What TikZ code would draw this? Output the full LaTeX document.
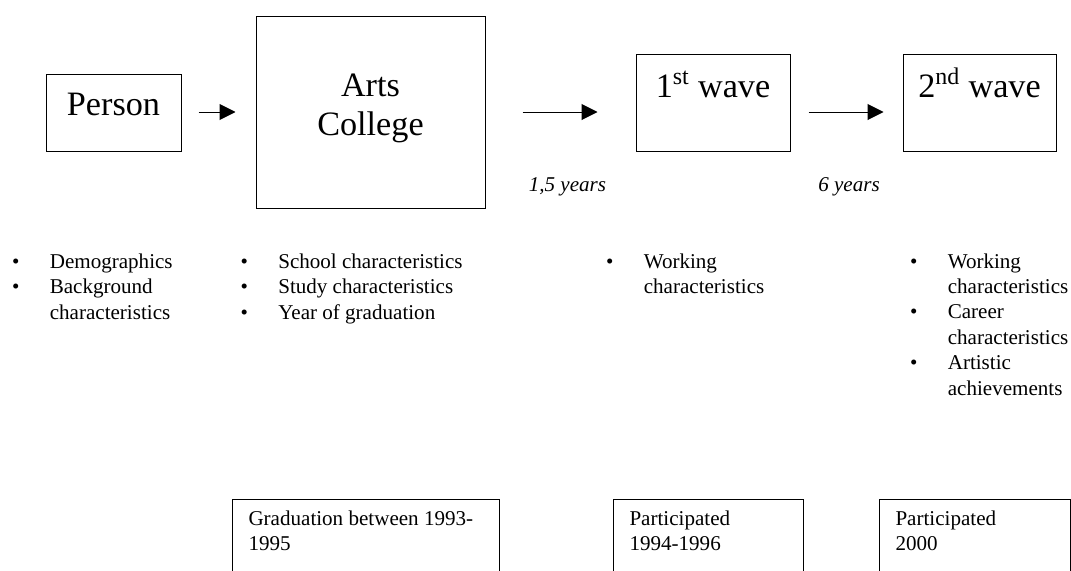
\documentclass[tikz,border=0pt]{standalone}
\usepackage{fontspec}
\setmainfont{Liberation Serif}
\usepackage{tikz}
\usetikzlibrary{arrows.meta}
\newcommand\boxtext{\fontsize{25.65}{29.25}\selectfont}
\newcommand\listtext{\fontsize{15.8}{19.1}\selectfont}

\begin{document}
\begin{tikzpicture}[
    x=0.75pt, y=-0.75pt,
    stage/.style={draw=black, line width=0.75pt, anchor=base, inner xsep=0pt, inner ysep=0pt, font=\boxtext},
    flow/.style={-{Triangle[length=12pt,width=12pt]}, line width=0.75pt},
    years/.style={anchor=base, inner sep=0pt, font=\listtext\itshape},
    vars/.style={anchor=base west, inner sep=0pt, font=\listtext},
    cohort/.style={draw=black, line width=0.75pt, anchor=base west, inner xsep=12pt, inner ysep=0pt, text height=19.5pt, text depth=60pt, font=\listtext}
]
\path[use as bounding box, clip] (0,0) rectangle (1071,571);

\node[stage, minimum width=101.25pt, text height=30.75pt, text depth=27pt] (Person) at (113.5,115) {Person};
\node[stage, minimum width=171.75pt, text height=60pt, text depth=84pt] (Arts) at (370.5,96) {\begin{tabular}[t]{@{}c@{}}Arts\\College\end{tabular}};
\node[stage, minimum width=115.5pt, text height=32.25pt, text depth=40.5pt] (Wave1) at (713,97) {1\textsuperscript{st} wave};
\node[stage, minimum width=114.75pt, text height=32.25pt, text depth=40.5pt] (Wave2) at (979.5,97) {2\textsuperscript{nd} wave};

\draw[flow] ([xshift=12.75pt]Person.east |- Arts.west) -- ([xshift=-15pt]Arts.west);
\draw[flow] ([xshift=27.75pt]Arts.east) -- node[years, pos=0.6, yshift=-59.25pt] {1,5 years} ([xshift=-28.5pt]Wave1.west |- Arts.east);
\draw[flow] ([xshift=13.5pt]Wave1.east |- Arts.east) -- node[years, pos=0.54, yshift=-59.25pt] {6 years} ([xshift=-14.25pt]Wave2.west |- Arts.east);

\node[vars] (PersonVars) at (11.8,268.5) {\begin{tabular}[t]{@{}p{28.3pt}@{}l@{}}
\textbullet & Demographics\\
\textbullet & Background\\
 & characteristics
\end{tabular}};
\node[vars] (ArtsVars) at (240.3,268.5) {\begin{tabular}[t]{@{}p{28.3pt}@{}l@{}}
\textbullet & School characteristics\\
\textbullet & Study characteristics\\
\textbullet & Year of graduation
\end{tabular}};
\node[vars] (Wave1Vars) at (605.8,268) {\begin{tabular}[t]{@{}p{28.3pt}@{}l@{}}
\textbullet & Working\\
 & characteristics
\end{tabular}};
\node[vars] (Wave2Vars) at (909.8,268) {\begin{tabular}[t]{@{}p{28.3pt}@{}l@{}}
\textbullet & Working\\
 & characteristics\\
\textbullet & Career\\
 & characteristics\\
\textbullet & Artistic\\
 & achievements
\end{tabular}};

\node[cohort] (ArtsCohort) at (232,525) {\begin{tabular}[t]{@{}p{176.25pt}@{}}Graduation between 1993-\\1995\end{tabular}};
\node[cohort] (Wave1Part) at (613,525) {\begin{tabular}[t]{@{}p{118.5pt}@{}}Participated\\1994-1996\end{tabular}};
\node[cohort] (Wave2Part) at (879,525) {\begin{tabular}[t]{@{}p{119.25pt}@{}}Participated\\2000\end{tabular}};
\end{tikzpicture}
\end{document}
